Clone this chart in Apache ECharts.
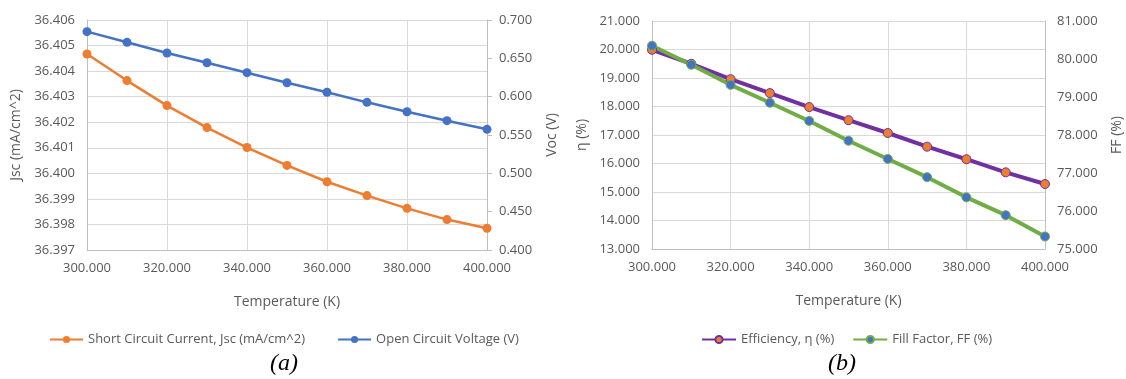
<!DOCTYPE html>
<html><head><meta charset="utf-8">
<script src="https://cdn.jsdelivr.net/npm/echarts@6/dist/echarts.min.js"></script>
<style>html,body{margin:0;padding:0;background:#fff}#c{width:1126px;height:379px}</style>
</head><body><div id="c"></div>
<script>
const temperature = [300, 310, 320, 330, 340, 350, 360, 370, 380, 390, 400];
const jsc = [36.40467, 36.40363, 36.40265, 36.40179, 36.40101, 36.40031, 36.39967, 36.39913, 36.39863, 36.39819, 36.39785];
const voc = [0.6848, 0.6709, 0.6570, 0.6443, 0.6313, 0.6182, 0.6057, 0.5926, 0.5804, 0.5687, 0.5574];
const eff = [19.99, 19.50, 18.96, 18.47, 17.98, 17.52, 17.07, 16.59, 16.15, 15.69, 15.28];
const ff = [80.35, 79.85, 79.32, 78.85, 78.37, 77.85, 77.37, 76.89, 76.36, 75.89, 75.33];
const names = ['Short Circuit Current, Jsc (mA/cm^2)', 'Open Circuit Voltage (V)', 'Efficiency, η (%)', 'Fill Factor, FF (%)'];
const captions = ['(a)', '(b)'];

const FONT = 'Open Sans';
const GRAY = '#595959';
const GRID = '#d9d9d9';
const pair = a => temperature.map((t, i) => [t, a[i]]);
const fmt3 = v => v.toFixed(3);

function xAxis(gi) {
  return {
    type: 'value', gridIndex: gi, min: 300, max: 400, interval: 20,
    name: 'Temperature (K)', nameLocation: 'middle', nameGap: 45,
    nameTextStyle: { color: GRAY, fontSize: 14, fontFamily: FONT },
    axisLine: { show: true, lineStyle: { color: '#bfbfbf' } },
    axisTick: { show: false },
    axisLabel: { color: GRAY, fontSize: 13, fontFamily: FONT, margin: 12, formatter: fmt3 },
    splitLine: { show: true, lineStyle: { color: GRID } }
  };
}
function yAxis(gi, pos, min, max, interval, name, gap, showSplit) {
  return {
    type: 'value', gridIndex: gi, position: pos, min, max, interval,
    name, nameLocation: 'middle', nameGap: gap, nameRotate: 90,
    nameTextStyle: { color: GRAY, fontSize: 14, fontFamily: FONT },
    axisLine: { show: true, lineStyle: { color: '#bfbfbf' } },
    axisTick: { show: pos === 'right' && gi === 0, length: 5, lineStyle: { color: '#bfbfbf' } },
    axisLabel: { color: GRAY, fontSize: 13, fontFamily: FONT, margin: 12, formatter: fmt3 },
    splitLine: { show: showSplit, lineStyle: { color: GRID } }
  };
}

const chart = echarts.init(document.getElementById('c'), null, { renderer: 'canvas' });
chart.setOption({
  animation: false,
  backgroundColor: '#fff',
  grid: [
    { left: 87, right: 639, top: 20, bottom: 129 },
    { left: 652, right: 81, top: 21, bottom: 130 }
  ],
  xAxis: [xAxis(0), xAxis(1)],
  yAxis: [
    yAxis(0, 'left', 36.397, 36.406, 0.001, 'Jsc (mA/cm^2)', 64, true),
    yAxis(0, 'right', 0.4, 0.7, 0.05, 'Voc (V)', 58, false),
    yAxis(1, 'left', 13, 21, 1, 'η (%)', 63, true),
    yAxis(1, 'right', 75, 81, 1, 'FF (%)', 65, false)
  ],
  legend: [
    { data: [names[0], names[1]], left: 44, top: 328, itemWidth: 33, itemHeight: 9, itemGap: 32,
      textStyle: { color: GRAY, fontSize: 13, fontFamily: FONT } },
    { data: [names[2], names[3]], left: 696, top: 328, itemWidth: 34, itemHeight: 9, itemGap: 18,
      textStyle: { color: GRAY, fontSize: 13, fontFamily: FONT } }
  ],
  graphic: [
    { type: 'text', left: 270, top: 352, style: { text: captions[0], font: 'italic 24px "Liberation Serif"', fill: '#000' } },
    { type: 'text', left: 828, top: 352, style: { text: captions[1], font: 'italic 24px "Liberation Serif"', fill: '#000' } }
  ],
  series: [
    { name: names[0], type: 'line', xAxisIndex: 0, yAxisIndex: 0, data: pair(jsc),
      symbol: 'circle', symbolSize: 9, lineStyle: { color: '#ED7D31', width: 2.5 },
      itemStyle: { color: '#ED7D31' } },
    { name: names[1], type: 'line', xAxisIndex: 0, yAxisIndex: 1, data: pair(voc),
      symbol: 'circle', symbolSize: 9, lineStyle: { color: '#4472C4', width: 2.5 },
      itemStyle: { color: '#4472C4' } },
    { name: names[2], type: 'line', xAxisIndex: 1, yAxisIndex: 2, data: pair(eff),
      symbol: 'circle', symbolSize: 9, lineStyle: { color: '#7030A0', width: 4 },
      itemStyle: { color: '#ED7D31', borderColor: '#7030A0', borderWidth: 1 } },
    { name: names[3], type: 'line', xAxisIndex: 1, yAxisIndex: 3, data: pair(ff),
      symbol: 'circle', symbolSize: 9, lineStyle: { color: '#70AD47', width: 4 },
      itemStyle: { color: '#4472C4', borderColor: '#70AD47', borderWidth: 1 } }
  ]
});
</script></body></html>
